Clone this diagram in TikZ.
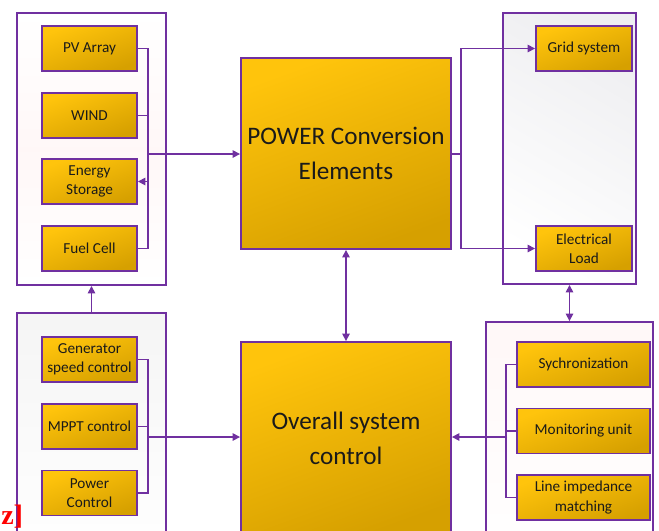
\documentclass[tikz,border=0pt]{standalone}
\usepackage{fontspec}
\setmainfont{Carlito}
\newfontfamily\redserif{Liberation Serif}
\usepackage{tikz}
\usetikzlibrary{arrows.meta,calc}
\definecolor{purp}{HTML}{7030A0}
\definecolor{goldA}{HTML}{FFC40C}
\definecolor{goldB}{HTML}{D6A000}
\definecolor{inkK}{HTML}{1A1A1A}

\begin{document}
\begin{tikzpicture}[
  x=0.3mm,y=-0.3mm,
  >={Triangle[length=2.2mm,width=2.2mm]},
  line width=1.3pt,
  box/.style={draw=purp,line width=1.6pt,top color=goldA,bottom color=goldB,shading angle=20,
    inner sep=0pt,align=center,text=inkK,font=\fontsize{13}{16.5}\selectfont},
  big/.style={box,font=\fontsize{21.5}{30}\selectfont},
  panel/.style={draw=purp,line width=1.6pt,inner sep=0pt},
  wire/.style={draw=purp,line width=1.3pt}
]
\useasboundingbox (0,0) rectangle (659,530);
\clip (0,0) rectangle (659,530);

% --- panels ---
\node[panel,top color=white,bottom color=white,middle color=red!3,minimum width=44.7mm,minimum height=81.6mm] (lt) at (91.5,149) {};
\node[panel,top color=gray!8,bottom color=white,minimum width=44.7mm,minimum height=74.1mm] (lb) at (91.5,436.5) {};
\node[panel,top color=blue!8!gray!12,bottom color=white,shading angle=-30,minimum width=39.9mm,minimum height=81.3mm] (rt) at (569.5,148.5) {};
\node[panel,top color=red!3,bottom color=white,minimum width=50.1mm,minimum height=71.4mm] (rb) at (569.5,441) {};

% --- sources ---
\node[box,minimum width=28.5mm,minimum height=13.5mm] (pv) at (89.5,48.5) {PV Array};
\node[box,minimum width=28.5mm,minimum height=13.5mm] (wind) at (89.5,115.5) {WIND};
\node[box,minimum width=28.5mm,minimum height=13.5mm] (storage) at (89.5,181.5) {Energy\\Storage};
\node[box,minimum width=28.5mm,minimum height=13.5mm] (fuel) at (89.5,248.5) {Fuel Cell};

% --- local controls ---
\node[box,minimum width=28.5mm,minimum height=13.5mm] (gen) at (89.5,359.5) {Generator\\speed control};
\node[box,minimum width=28.5mm,minimum height=13.5mm] (mppt) at (89.5,426.5) {MPPT control};
\node[box,minimum width=28.5mm,minimum height=13.5mm] (pctrl) at (89.5,493) {Power\\Control};

% --- centre ---
\node[big,minimum width=63mm,minimum height=57.3mm] (power) at (346,153.5) {POWER Conversion\\Elements};
\node[big,minimum width=63mm,minimum height=57.6mm] (overall) at (346,438) {Overall system\\control};

% --- loads ---
\node[box,minimum width=28.8mm,minimum height=13.5mm] (grid) at (584,48.5) {Grid system};
\node[box,minimum width=28.8mm,minimum height=13.5mm] (load) at (584,248.5) {Electrical\\Load};

% --- grid side ---
\node[box,minimum width=39.9mm,minimum height=13.5mm] (sync) at (583.5,364.5) {Sychronization};
\node[box,minimum width=39.9mm,minimum height=13.5mm] (mon) at (583.5,431) {Monitoring unit};
\node[box,minimum width=39.9mm,minimum height=13.5mm] (line) at (583.5,497.5) {Line impedance\\matching};

% --- connectors ---
\coordinate (ltbus) at (147,154);
\draw[wire] (pv.east) -- ++(10,0) |- (fuel.east);
\draw[wire] (wind.east) -- ++(10,0);
\draw[wire,->] (storage.east -| ltbus) -- (storage.east);
\draw[wire,->] (ltbus) -- (ltbus -| power.west);

\coordinate (lbbus) at (147,437);
\draw[wire] (gen.east) -- ++(10,0) |- (pctrl.east);
\draw[wire] (mppt.east) -- ++(10,0);
\draw[wire,->] (lbbus) -- (lbbus -| overall.west);
\draw[wire,->] (lb.north) -- (lt.south);

\draw[wire,<->] (power.south) -- (overall.north);

\coordinate (rtbus) at (461,154);
\draw[wire] (power.east |- rtbus) -- (rtbus);
\draw[wire,->] (rtbus) |- (grid.west);
\draw[wire,->] (rtbus) |- (load.west);
\draw[wire,<->] (rt.south) -- (rb.north);

\coordinate (rbbus) at (507,437);
\draw[wire] (sync.west) -- ++(-10,0) |- (line.west);
\draw[wire] (mon.west) -- ++(-10,0);
\draw[wire,->] (rbbus) -- (rbbus -| overall.east);

% --- stray fragment ---
\node[anchor=base west,inner sep=0pt,text=red,font=\redserif\bfseries\fontsize{24}{24}\selectfont] (frag) at (0.5,524) {z]};
\end{tikzpicture}
\end{document}
